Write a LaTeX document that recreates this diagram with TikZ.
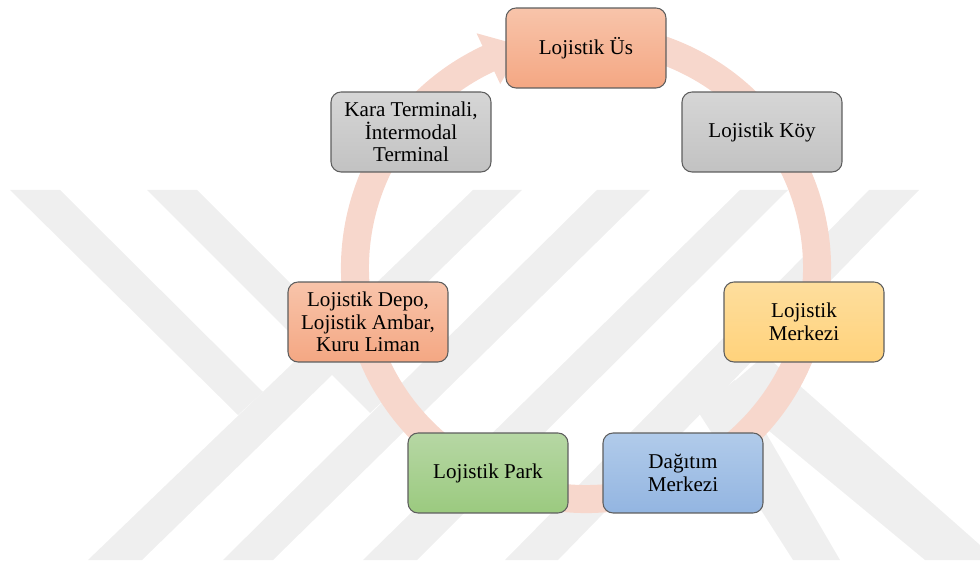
\documentclass[tikz,border=0pt]{standalone}
\usepackage{fontspec}
\setmainfont{Liberation Serif}
\definecolor{halka}{HTML}{F7D7CC}
\definecolor{filigran}{HTML}{EFEFEF}
\definecolor{kenar}{HTML}{5E5E5E}
\definecolor{turuncuA}{HTML}{F8C4AA}
\definecolor{turuncuB}{HTML}{F4A783}
\definecolor{griA}{HTML}{D6D6D6}
\definecolor{griB}{HTML}{C2C2C2}
\definecolor{sariA}{HTML}{FEDE9D}
\definecolor{sariB}{HTML}{FFD27B}
\definecolor{maviA}{HTML}{B1CBEA}
\definecolor{maviB}{HTML}{93B5E1}
\definecolor{yesilA}{HTML}{B6D7A4}
\definecolor{yesilB}{HTML}{9BCA7F}
\tikzset{
  kutu/.style={draw=kenar, line width=0.6pt, rounded corners=0.2cm,
    minimum width=3.2cm, minimum height=1.6cm, align=center,
    font=\fontsize{12}{12.8}\selectfont},
  turuncu/.style={kutu, top color=turuncuA, bottom color=turuncuB},
  gri/.style={kutu, top color=griA, bottom color=griB},
  sari/.style={kutu, top color=sariA, bottom color=sariB},
  mavi/.style={kutu, top color=maviA, bottom color=maviB},
  yesil/.style={kutu, top color=yesilA, bottom color=yesilB}
}
\begin{document}
\begin{tikzpicture}[x=0.02cm, y=-0.02cm]
\useasboundingbox (0,0) rectangle (980,563);
% filigran
\fill[filigran] (10,190) -- (60,190) -- (263,392) -- (238,415) -- cycle;
\fill[filigran] (147,190) -- (197,190) -- (396,389) -- (370,413) -- cycle;
\fill[filigran] (88,560) -- (142,560) -- (522,190) -- (473,190) -- cycle;
\fill[filigran] (223,560) -- (273,560) -- (650,190) -- (597,190) -- cycle;
\fill[filigran] (363,560) -- (417,560) -- (788,190) -- (740,190) -- cycle;
\fill[filigran] (505,560) -- (558,560) -- (919,190) -- (869,190) -- cycle;
\fill[filigran] (697,410) -- (735,380) -- (840,560) -- (793,560) -- cycle;
\fill[filigran] (722,392) -- (765,355) -- (980,545) -- (980,560) -- (925,560) -- cycle;
% halka
\begin{scope}[shift={(586,268)}]
\fill[halka] (-72:245) arc[start angle=-72, end angle=245, radius=245]
  -- (245:259) -- (254:231) -- (245:203) -- (245:217)
  arc[start angle=245, end angle=-72, radius=217] -- cycle;
\end{scope}
\node[turuncu] (us) at (586,48) {Lojistik Üs};
\node[gri] (koy) at (762,132) {Lojistik Köy};
\node[sari] (merkez) at (804,322) {Lojistik\\Merkezi};
\node[mavi] (dagitim) at (683,473) {Dağıtım\\Merkezi};
\node[yesil] (park) at (488,473) {Lojistik Park};
\node[turuncu] (depo) at (368,322) {Lojistik Depo,\\Lojistik Ambar,\\Kuru Liman};
\node[gri] (kara) at (411,132) {Kara Terminali,\\İntermodal\\Terminal};
\end{tikzpicture}
\end{document}
